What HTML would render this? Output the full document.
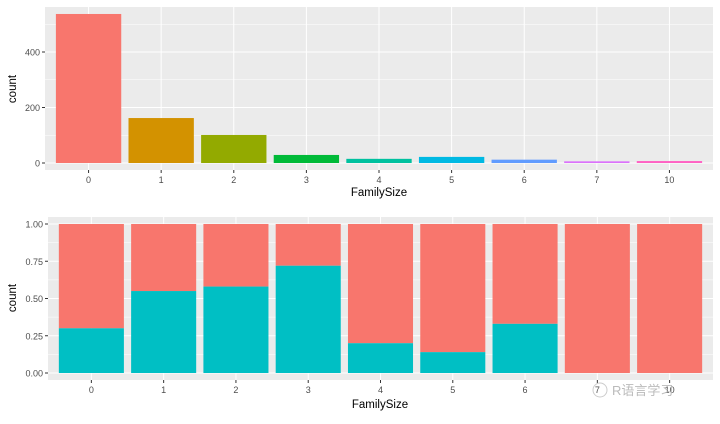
<!DOCTYPE html>
<html><head><meta charset="utf-8"><style>
body{margin:0;background:#fff;width:720px;height:419px;overflow:hidden;font-family:"Liberation Sans","Noto Sans CJK SC",sans-serif}
</style></head><body>
<svg id="c" width="720" height="419" xmlns="http://www.w3.org/2000/svg"></svg>
<script>
const categories=["0","1","2","3","4","5","6","7","10"];
const countValues=[537,162,101,29,15,22,12,6,7];
const survivedFrac=[0.30,0.55,0.58,0.72,0.20,0.14,0.33,0,0];
const topTicks=[0,200,400];
const bottomTicks=[0,0.25,0.5,0.75,1];
const barColors=["#F8766D","#D39200","#93AA00","#00BA38","#00C19F","#00B9E3","#619CFF","#DB72FB","#FF61C3"];
const svg=document.getElementById('c');
const NS="http://www.w3.org/2000/svg";
function mk(t,a,p){const e=document.createElementNS(NS,t);for(const k in a)e.setAttribute(k,a[k]);(p||svg).appendChild(e);return e;}
function panel(top,bottom,left,right,yMin,yMax,y0px,y1px,ticks,fmt,name){
  const g=mk('g',{});
  
  
  mk('rect',{x:left,y:top,width:right-left,height:bottom-top,fill:'#EBEBEB'},g);
  const ys=v=>y0px+(v-yMin)/(yMax-yMin)*(y1px-y0px);
  const step=(right-left)/9.2;
  const xs=i=>left+step*(0.6+i);
  for(let k=0;k<ticks.length-1;k++){const m=(ticks[k]+ticks[k+1])/2;mk('line',{x1:left,x2:right,y1:ys(m),y2:ys(m),stroke:'#fff','stroke-width':0.5},g);}
  if(ys(ticks[ticks.length-1]+(ticks[1]-ticks[0])/2)>top){const m=ticks[ticks.length-1]+(ticks[1]-ticks[0])/2;mk('line',{x1:left,x2:right,y1:ys(m),y2:ys(m),stroke:'#fff','stroke-width':0.5},g);}
  ticks.forEach(t=>{mk('line',{x1:left,x2:right,y1:ys(t),y2:ys(t),stroke:'#fff','stroke-width':1},g);
    mk('line',{x1:left-3,x2:left,y1:ys(t),y2:ys(t),stroke:'#333'},g);
    const tx=mk('text',{x:left-5,y:ys(t)+3.5,'text-anchor':'end','font-size':9,fill:'#4D4D4D'},g);tx.textContent=fmt(t);
    
    });
  categories.forEach((c,i)=>{mk('line',{x1:xs(i),x2:xs(i),y1:top,y2:bottom,stroke:'#fff','stroke-width':1},g);
    mk('line',{x1:xs(i),x2:xs(i),y1:bottom,y2:bottom+3,stroke:'#333'},g);
    const tx=mk('text',{x:xs(i),y:bottom+13,'text-anchor':'middle','font-size':9,fill:'#4D4D4D'},g);tx.textContent=c;
    
    });
  return {g,xs,ys,bw:step*0.9};
}
// top
const p1=panel(7,170,45,713,0,400,163,52,topTicks,v=>String(v),'count-panel');
countValues.forEach((v,i)=>{const r=mk('rect',{x:p1.xs(i)-p1.bw/2,y:p1.ys(v),width:p1.bw,height:p1.ys(0)-p1.ys(v),fill:barColors[i]},p1.g);
  
  });
// bottom
const p2=panel(217,380,48,713,0,1,373,224,bottomTicks,v=>v.toFixed(2),'proportion-panel');
survivedFrac.forEach((v,i)=>{
  const a=mk('rect',{x:p2.xs(i)-p2.bw/2,y:p2.ys(1),width:p2.bw,height:p2.ys(v)-p2.ys(1),fill:'#F8766D'},p2.g);
  
  
  const b=mk('rect',{x:p2.xs(i)-p2.bw/2,y:p2.ys(v),width:p2.bw,height:p2.ys(0)-p2.ys(v),fill:'#00BFC4'},p2.g);
  
  });
function lab(x,y,t,rot,name){const e=mk('text',{x:x,y:y,'text-anchor':'middle','font-size':11.5,fill:'#000'});if(rot)e.setAttribute('transform','rotate(-90 '+x+' '+y+')');e.textContent=t;
  
  }
lab(379,196,'FamilySize',false,'x-axis-title-top');
lab(16,89,'count',true,'y-axis-title-top');
lab(380,408,'FamilySize',false,'x-axis-title-bottom');
lab(16,298,'count',true,'y-axis-title-bottom');
const wm=mk('text',{x:612,y:395,'font-size':13,fill:'#bbb'});wm.textContent='R语言学习';


const wi=mk('circle',{cx:600,cy:390,r:7,fill:'none',stroke:'#ccc'});


</script>
</body></html>
